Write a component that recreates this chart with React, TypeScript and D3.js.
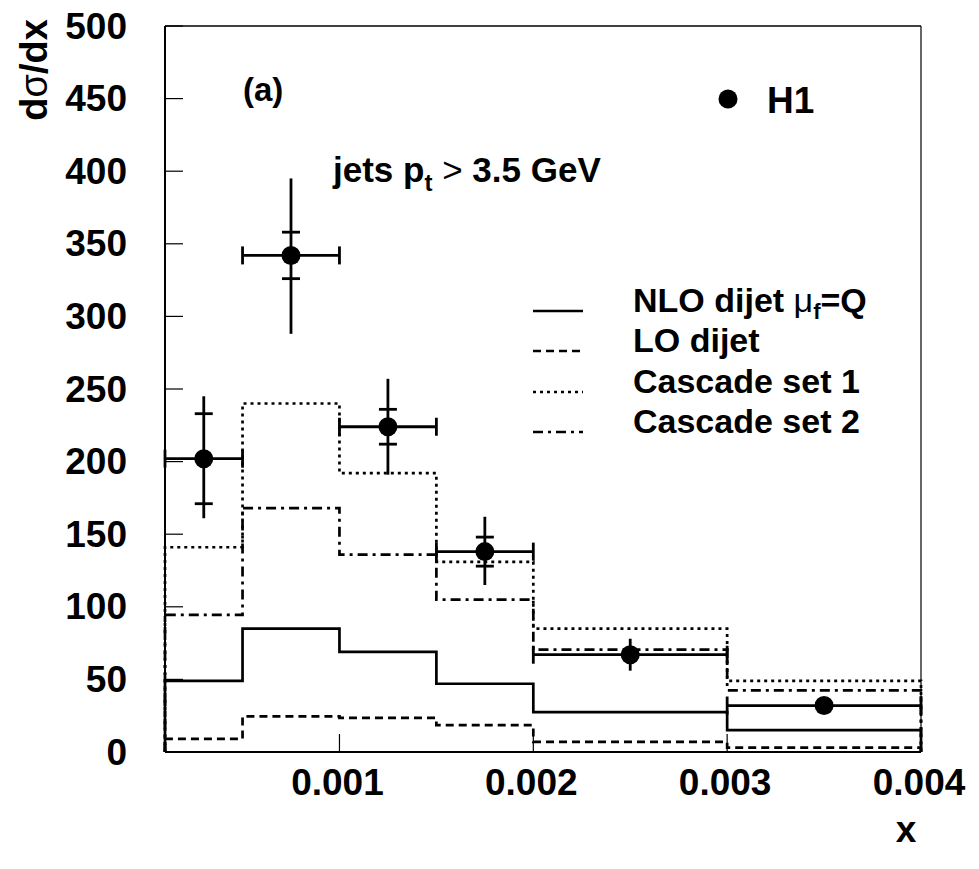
import React from "react";
import * as d3 from "d3";

const binEdges = [0.0001, 0.0005, 0.001, 0.0015, 0.002, 0.003, 0.004];
const nloValues = [49, 85, 69, 47, 27.5, 15];
const loValues = [9, 24.5, 23.5, 18.5, 7, 3];
const cascade1Values = [141, 240, 192, 131, 85, 49];
const cascade2Values = [94.5, 168, 136, 105, 70.5, 42.5];

const dataX = [0.0003, 0.00075, 0.00125, 0.00175, 0.0025, 0.0035];
const dataY = [202, 342, 224, 138, 67, 32];
const statErr = [31, 16, 12, 10, 4, 2];
const totErrUp = [43, 53, 33, 24, 11, 4];
const totErrDown = [41, 54, 33, 23, 11, 4];

const yTicks = [0, 50, 100, 150, 200, 250, 300, 350, 400, 450, 500];
const xTicks = [0.001, 0.002, 0.003, 0.004];
const xTickLabels = ["0.001", "0.002", "0.003", "0.004"];

const W = 979;
const H = 869;
const FONT = "'Liberation Sans', Arial, Helvetica, sans-serif";

export default function App() {
  const x = d3.scaleLinear().domain([0.0001, 0.004]).range([165, 921]);
  const y = d3.scaleLinear().domain([0, 500]).range([752, 26]);

  const histPath = (vals: number[]) => {
    const pts: [number, number][] = [[binEdges[0], 0]];
    vals.forEach((v, i) => {
      pts.push([binEdges[i], v]);
      pts.push([binEdges[i + 1], v]);
    });
    pts.push([binEdges[binEdges.length - 1], 0]);
    return d3
      .line<[number, number]>()
      .x((d) => x(d[0]))
      .y((d) => y(d[1]))(pts) as string;
  };

  const series = [
    { vals: nloValues, dash: "none", label: "nlo" },
    { vals: loValues, dash: "8,5", label: "lo" },
    { vals: cascade1Values, dash: "3,4", label: "c1" },
    { vals: cascade2Values, dash: "10,5,3,5", label: "c2" },
  ];

  const legendBase = [312, 352, 393, 433];
  const capH = 9;
  const markerR = 9.5;

  return (
    <svg
      width={W}
      height={H}
      style={{ position: "absolute", left: 0, top: 0, background: "#fff" }}
      fontFamily={FONT}
      fontWeight="bold"
    >
      <rect x={0} y={0} width={W} height={H} fill="#fff" />
      {/* histograms */}
      {series.map((s) => (
        <path
          key={s.label}
          d={histPath(s.vals)}
          fill="none"
          stroke="#000"
          strokeWidth={2.7}
          strokeDasharray={s.dash}
        />
      ))}

      {/* frame */}
      <line x1={165} y1={y(500)} x2={921} y2={y(500)} stroke="#000" strokeWidth={1.5} />
      <line x1={921} y1={y(500)} x2={921} y2={y(0)} stroke="#000" strokeWidth={1.2} />
      <line x1={165} y1={y(500)} x2={165} y2={y(0)} stroke="#000" strokeWidth={2} />
      <line x1={165} y1={y(0)} x2={921} y2={y(0)} stroke="#000" strokeWidth={2} />

      {/* y ticks */}
      {yTicks.map((t) => (
        <g key={"yt" + t}>
          <line x1={165} x2={183} y1={y(t)} y2={y(t)} stroke="#000" strokeWidth={1.2} />
          <text
            x={127}
            y={y(t)}
            textAnchor="end"
            dominantBaseline="central"
            fontSize={37}
          >
            {t}
          </text>
        </g>
      ))}

      {/* x ticks */}
      {xTicks.map((t, i) => (
        <g key={"xt" + t}>
          <line x1={x(t)} x2={x(t)} y1={y(0)} y2={y(0) - 18} stroke="#000" strokeWidth={1.2} />
          <text x={x(t) - 2} y={795} textAnchor="middle" fontSize={37}>
            {xTickLabels[i]}
          </text>
        </g>
      ))}

      {/* axis titles */}
      <text x={906} y={842} textAnchor="middle" fontSize={37}>
        x
      </text>
      <text
        transform="translate(47,70) rotate(-90)"
        textAnchor="middle"
        fontSize={38}
      >
        d<tspan fontWeight="normal">σ</tspan>/dx
      </text>

      {/* data points */}
      {dataX.map((dx, i) => {
        const cx = x(dx);
        const cy = y(dataY[i]);
        const xl = x(binEdges[i]);
        const xr = x(binEdges[i + 1]);
        const sUp = y(dataY[i] + statErr[i]);
        const sDn = y(dataY[i] - statErr[i]);
        const showStat = cy - sUp > markerR + 1;
        return (
          <g key={"pt" + i} stroke="#000" strokeWidth={2.8}>
            <line x1={xl} x2={xr} y1={cy} y2={cy} />
            <line x1={xl} x2={xl} y1={cy - capH} y2={cy + capH} />
            <line x1={xr} x2={xr} y1={cy - capH} y2={cy + capH} />
            <line x1={cx} x2={cx} y1={y(dataY[i] + totErrUp[i])} y2={y(dataY[i] - totErrDown[i])} />
            {showStat && <line x1={cx - capH} x2={cx + capH} y1={sUp} y2={sUp} />}
            {showStat && <line x1={cx - capH} x2={cx + capH} y1={sDn} y2={sDn} />}
            <circle cx={cx} cy={cy} r={markerR} fill="#000" stroke="none" />
          </g>
        );
      })}

      {/* labels */}
      <text x={243} y={101} fontSize={33}>
        (a)
      </text>
      <circle cx={728} cy={99} r={9.5} fill="#000" />
      <text x={767} y={113} fontSize={37}>
        H1
      </text>
      <text x={333} y={182} fontSize={35}>
        jets p<tspan fontSize={24} dy={9}>t</tspan>
        <tspan dy={-9} fontWeight="normal"> &gt; </tspan>3.5 GeV
      </text>

      {/* legend */}
      {series.map((s, i) => (
        <line
          key={"lg" + s.label}
          x1={533}
          x2={583}
          y1={legendBase[i] - 1}
          y2={legendBase[i] - 1}
          stroke="#000"
          strokeWidth={2.7}
          strokeDasharray={s.dash}
        />
      ))}
      <text x={633} y={legendBase[0]} fontSize={34}>
        NLO dijet <tspan fontWeight="normal">μ</tspan>
        <tspan fontSize={22} dy={7}>f</tspan>
        <tspan dy={-7}>=Q</tspan>
      </text>
      <text x={633} y={legendBase[1]} fontSize={34}>
        LO dijet
      </text>
      <text x={633} y={legendBase[2]} fontSize={34}>
        Cascade set 1
      </text>
      <text x={633} y={legendBase[3]} fontSize={34}>
        Cascade set 2
      </text>
    </svg>
  );
}
